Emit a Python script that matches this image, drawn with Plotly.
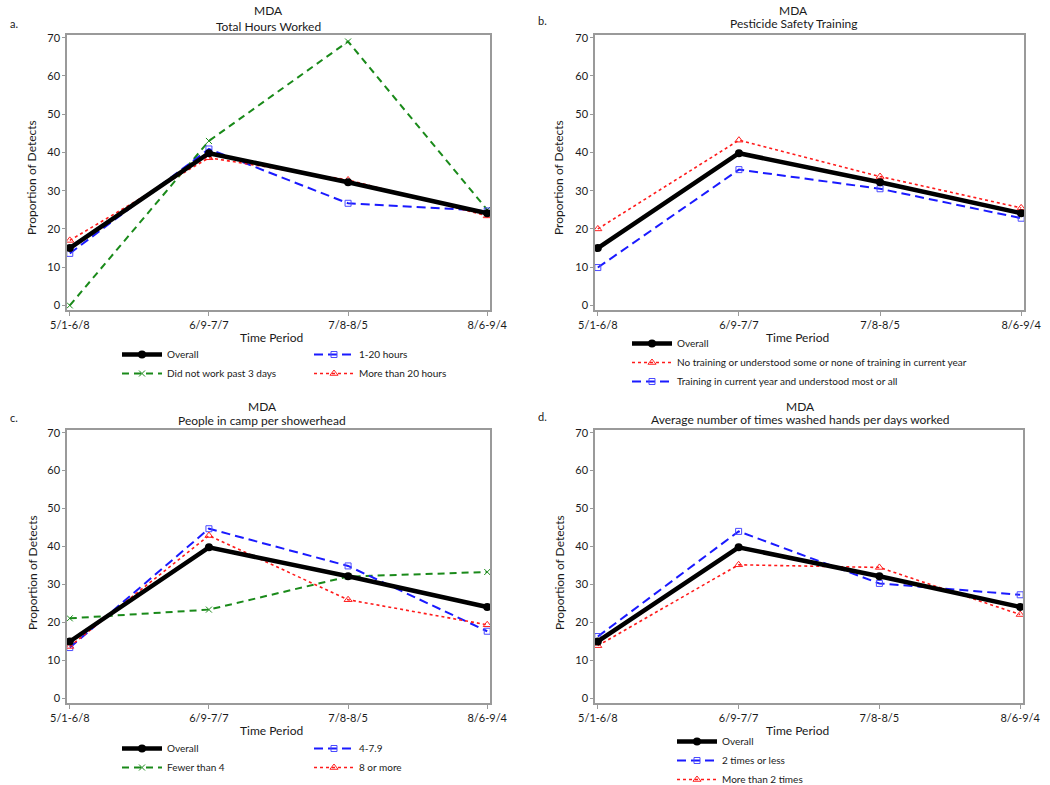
import plotly.graph_objects as go

periods = ["5/1-6/8", "6/9-7/7", "7/8-8/5", "8/6-9/4"]
y_ticks = [0, 10, 20, 30, 40, 50, 60, 70]

overall = [15.0, 39.8, 32.2, 24.1]

# Panel a: Total Hours Worked
a_not_worked = [0.0, 43.0, 69.0, 25.0]
a_1_20 = [13.6, 40.9, 26.7, 24.7]
a_more_20 = [17.0, 38.6, 32.8, 23.4]

# Panel b: Pesticide Safety Training
b_no_training = [20.0, 43.2, 33.7, 25.5]
b_training = [9.9, 35.5, 30.5, 22.8]

# Panel c: People in camp per showerhead
c_fewer_4 = [21.1, 23.4, 32.1, 33.3]
c_4_79 = [13.4, 44.7, 34.9, 17.7]
c_8_more = [13.7, 42.9, 26.0, 19.4]

# Panel d: Hand washing
d_2_less = [16.3, 44.0, 30.3, 27.3]
d_more_2 = [13.9, 35.2, 34.5, 22.1]

FONT = "Lato"
TXT = "#1a1a1a"
W, H = 1050, 785


def px(x):
    return x / W


def py(y):
    return 1 - y / H


styles = {
    "overall": dict(line=dict(color="black", width=4.5, dash="solid"),
                    marker=dict(symbol="circle", size=8, color="black")),
    "green": dict(line=dict(color="#1a8a1a", width=2, dash="7px,5px"),
                  marker=dict(symbol="x-thin", size=6, line=dict(color="#1a8a1a", width=1))),
    "blue": dict(line=dict(color="#1a1aff", width=2, dash="9px,5px"),
                 marker=dict(symbol="square-open", size=6, color="#4a4aff", line=dict(width=1))),
    "red": dict(line=dict(color="#ff1a1a", width=1.6, dash="dot"),
                marker=dict(symbol="triangle-up-open", size=7, color="#ff2020", line=dict(width=1))),
}

fig = go.Figure()


def add_panel(panel, items):
    for name, vals, style, legend, rank in items:
        xa = "x" if panel == 1 else f"x{panel}"
        ya = "y" if panel == 1 else f"y{panel}"
        s = styles[style]
        fig.add_trace(go.Scatter(
            x=periods, y=vals, name=name, mode="lines+markers",
            line=s["line"], marker=s["marker"], xaxis=xa, yaxis=ya,
            legend=legend, legendrank=rank, showlegend=True))


add_panel(1, [
    ("Did not work past 3 days", a_not_worked, "green", "legend", 2),
    ("1-20 hours", a_1_20, "blue", "legend2", 1),
    ("More than 20 hours", a_more_20, "red", "legend2", 2),
    ("Overall", overall, "overall", "legend", 1),
])
add_panel(2, [
    ("No training or understood some or none of training in current year", b_no_training, "red", "legend3", 2),
    ("Training in current year and understood most or all", b_training, "blue", "legend3", 3),
    ("Overall", overall, "overall", "legend3", 1),
])
add_panel(3, [
    ("Fewer than 4", c_fewer_4, "green", "legend4", 2),
    ("4-7.9", c_4_79, "blue", "legend5", 1),
    ("8 or more", c_8_more, "red", "legend5", 2),
    ("Overall", overall, "overall", "legend4", 1),
])
add_panel(4, [
    ("2 times or less", d_2_less, "blue", "legend6", 2),
    ("More than 2 times", d_more_2, "red", "legend6", 3),
    ("Overall", overall, "overall", "legend6", 1),
])

frames = {
    1: (67, 490, 35, 310),
    2: (595, 1024, 35, 310),
    3: (67, 490, 430, 703),
    4: (595, 1023, 430, 703),
}

axis_common = dict(showgrid=False, zeroline=False, showline=True, mirror=True,
                   linecolor="#9a9a9a", linewidth=1.5, ticks="outside",
                   ticklen=3, tickcolor="#9a9a9a", automargin=False,
                   tickfont=dict(family=FONT, size=11, color=TXT))

layout = dict(width=W, height=H, paper_bgcolor="white", plot_bgcolor="white",
              margin=dict(l=0, r=0, t=0, b=0, autoexpand=False), showlegend=True,
              font=dict(family=FONT, color=TXT))

for p, (x0, x1, y0, y1) in frames.items():
    xk = "xaxis" if p == 1 else f"xaxis{p}"
    yk = "yaxis" if p == 1 else f"yaxis{p}"
    ya = "y" if p == 1 else f"y{p}"
    xa = "x" if p == 1 else f"x{p}"
    layout[xk] = dict(axis_common, domain=[px(x0), px(x1)], anchor=ya,
                      type="category", range=[-0.02, 3.02], ticklen=4)
    layout[yk] = dict(axis_common, domain=[py(y1), py(y0)], anchor=xa,
                      range=[-1.2, 70.7], tickvals=y_ticks,
                      ticktext=[str(v) for v in y_ticks])

leg_common = dict(bgcolor="rgba(0,0,0,0)", borderwidth=0,
                  font=dict(family=FONT, size=10, color=TXT),
                  xanchor="left", yanchor="top", tracegroupgap=0,
                  itemwidth=40, traceorder="normal")
layout["legend"] = dict(leg_common, x=px(117), y=py(340))
layout["legend2"] = dict(leg_common, x=px(309), y=py(340))
layout["legend3"] = dict(leg_common, x=px(627), y=py(329))
layout["legend4"] = dict(leg_common, x=px(117), y=py(734))
layout["legend5"] = dict(leg_common, x=px(309), y=py(734))
layout["legend6"] = dict(leg_common, x=px(672), y=py(727))

fig.update_layout(**layout)


def ann(x, y, text, size=12, angle=0, xanchor="center"):
    fig.add_annotation(x=px(x), y=py(y), xref="paper", yref="paper", text=text,
                       showarrow=False, textangle=angle, xanchor=xanchor,
                       yanchor="middle", font=dict(family=FONT, size=size, color=TXT))


titles = {
    1: ("Total Hours Worked", 268, 11, 27, "a.", 8),
    2: ("Pesticide Safety Training", 793, 11, 24, "b.", 536),
    3: ("People in camp per showerhead", 262, 406, 420, "c.", 8),
    4: ("Average number of times washed hands per days worked", 800, 406, 419, "d.", 536),
}
for p, (sub, cx, ymda, ysub, lab, lx) in titles.items():
    ann(cx, ymda, "MDA", size=12)
    ann(cx, ysub, sub, size=12)
    ann(lx, ysub - 3, lab, size=11, xanchor="left")

ann(271, 337, "Time Period", size=12)
ann(797, 337, "Time Period", size=12)
ann(271, 730, "Time Period", size=12)
ann(797, 730, "Time Period", size=12)
ann(32, 178, "Proportion of Detects", size=12, angle=-90)
ann(559, 178, "Proportion of Detects", size=12, angle=-90)
ann(32, 573, "Proportion of Detects", size=12, angle=-90)
ann(559, 573, "Proportion of Detects", size=12, angle=-90)

fig.write_html("out.html", config={"displayModeBar": False},
               post_script="document.body.style.margin='0';document.body.style.overflow='hidden';")
